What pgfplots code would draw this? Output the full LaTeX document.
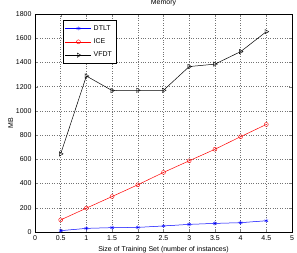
\documentclass[border=0pt]{standalone}
\usepackage{pgfplots}
\pgfplotsset{compat=1.18}
\usepackage{fontspec}
\setmainfont{Liberation Sans}

\begin{document}
\begin{tikzpicture}[x=1pt,y=1pt]
\begin{axis}[
  scale only axis,
  width=257pt, height=218pt,
  at={(0,0)}, anchor=south west,
  xmin=0, xmax=5, ymin=0, ymax=1800,
  xtick={0,0.5,...,5},
  xticklabels={0,0.5,1,1.5,2,2.5,3,3.5,4,4.5,5},
  ytick={0,200,...,1800},
  /pgf/number format/set thousands separator={},
  /pgf/number format/assume math mode=true,
  tick label style={font=\fontsize{7}{8}\selectfont},
  label style={font=\fontsize{7}{8}\selectfont},
  title style={font=\fontsize{7}{8}\selectfont, yshift=-1pt},
  title={Memory},
  xlabel={Size of Training Set (number of instances)},
  ylabel={MB},
  ylabel style={yshift=-4pt},
  xlabel style={yshift=1pt},
  grid=major,
  major grid style={dotted, line width=0.5pt, black!55},
  tick align=inside,
  major tick length=3pt,
  axis line style={line width=0.5pt},
  legend image code/.code={
    \draw[mark repeat=2, mark phase=2, #1]
      plot coordinates {(0pt,0pt) (13pt,0pt) (26pt,0pt)};},
  legend style={at={(0.109,0.972)}, anchor=north west,
    font=\fontsize{7}{8}\selectfont, draw=black, line width=0.4pt,
    inner xsep=2pt, inner ysep=3pt, row sep=3pt, cells={anchor=west}},
  legend cell align=left,
]
\addplot[blue, line width=0.5pt, mark=asterisk, mark size=2pt,
  mark options={line width=0.4pt}] coordinates {
  (0.5,11) (1,30) (1.5,36) (2,38) (2.5,50) (3,63) (3.5,71) (4,77) (4.5,93)};
\addlegendentry{DTLT}
\addplot[red, line width=0.5pt, mark=o, mark size=2pt,
  mark options={line width=0.4pt}] coordinates {
  (0.5,100) (1,197) (1.5,293) (2,390) (2.5,492) (3,588) (3.5,683) (4,787) (4.5,888)};
\addlegendentry{ICE}
\addplot[black, line width=0.5pt, mark=triangle, mark size=2.5pt,
  mark options={rotate=-90, line width=0.4pt}] coordinates {
  (0.5,645) (1,1288) (1.5,1168) (2,1170) (2.5,1170) (3,1366) (3.5,1386) (4,1489) (4.5,1654)};
\addlegendentry{VFDT}
\node[font=\fontsize{6}{7}\selectfont, anchor=south east, inner sep=0.5pt]
  at (rel axis cs:1,0) [xshift=4pt, yshift=-19.5pt] {$\times 10^{6}$};
\end{axis}
\pgfresetboundingbox
\useasboundingbox (-35pt,-20pt) rectangle (262pt,232pt);
\end{tikzpicture}
\end{document}
